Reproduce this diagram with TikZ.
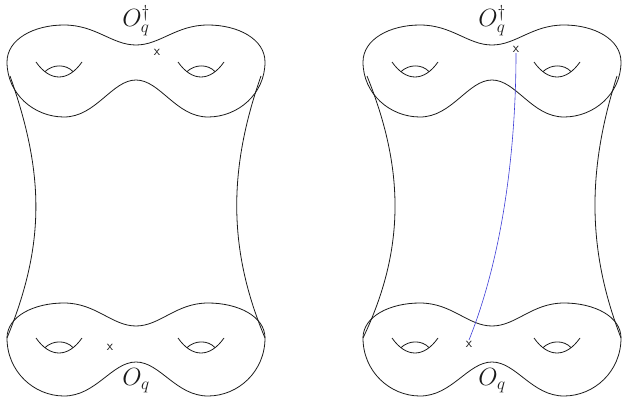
\documentclass[tikz,border=0pt]{standalone}
\usepackage{tikz}
\usepackage{xcolor}
\usetikzlibrary{arrows.meta,calc}
\definecolor{Ink}{HTML}{1A1A1A}
\definecolor{Flow}{HTML}{3C3CD6}

\tikzset{
  handle/.pic={
    \draw (-24,-15) .. controls (-10,5) and (8,5) .. (22,-15);
    \draw (-15,-5.4) .. controls (-7,-13) and (6,-13) .. (13,-5.4);
  },
  opname/.style={font=\fontsize{23}{27}\selectfont,inner sep=0pt},
  xmark/.style={font=\sffamily\fontsize{14}{15}\selectfont,inner sep=0.5pt}
}

\begin{document}
\begin{tikzpicture}[x=1pt,y=-1pt,line width=0.8pt,Ink]
  \useasboundingbox (0,0) rectangle (623,398);
  % the two boundary surfaces of each cylinder
  \foreach \cx in {136,492}{
    \foreach \cy/\ytop/\ydip/\ybump/\ylow in {62/-37/-17/18/55,338/-35/-12/24/58}{
      \begin{scope}[shift={(\cx,\cy)}]
        \draw (-129,0) .. controls (-129,0.62*\ytop) and (-102,\ytop) .. (-72,\ytop)
          .. controls (-40,\ytop) and (-24,\ydip) .. (0,\ydip)
          .. controls (24,\ydip) and (40,\ytop) .. (72,\ytop)
          .. controls (102,\ytop) and (129,0.62*\ytop) .. (129,0)
          .. controls (129,0.58*\ylow) and (102,\ylow) .. (72,\ylow)
          .. controls (40,\ylow) and (24,\ybump) .. (0,\ybump)
          .. controls (-24,\ybump) and (-40,\ylow) .. (-72,\ylow)
          .. controls (-102,\ylow) and (-129,0.58*\ylow) .. (-129,0);
        \pic at (-76,15) {handle};
        \pic at (66,15) {handle};
      \end{scope}
    }
  }
  % sides of the cylinders
  \draw (10,76) .. controls (45,175) and (45,245) .. (7,338);
  \draw (261,76) .. controls (228,170) and (228,250) .. (265,338);
  \draw (367,76) .. controls (405,170) and (405,250) .. (363,338);
  \draw (617,76) .. controls (587,170) and (587,250) .. (621,338);
  % operator insertions
  \node[opname] (dagL) at (136,21) {$O_q^\dagger$};
  \node[opname] (opL) at (136,381) {$O_q$};
  \node[opname] (dagR) at (492,21) {$O_q^\dagger$};
  \node[opname] (opR) at (492,381) {$O_q$};
  \node[xmark] (xtL) at (157,52) {x};
  \node[xmark] (xbL) at (110,347) {x};
  \node[xmark] (xtR) at (516,49) {x};
  \node[xmark] (xbR) at (469,344) {x};
  \draw[Flow,line width=0.6pt] (xbR.north) .. controls (505,250) and (516,140) .. (xtR.south);
\end{tikzpicture}
\end{document}
